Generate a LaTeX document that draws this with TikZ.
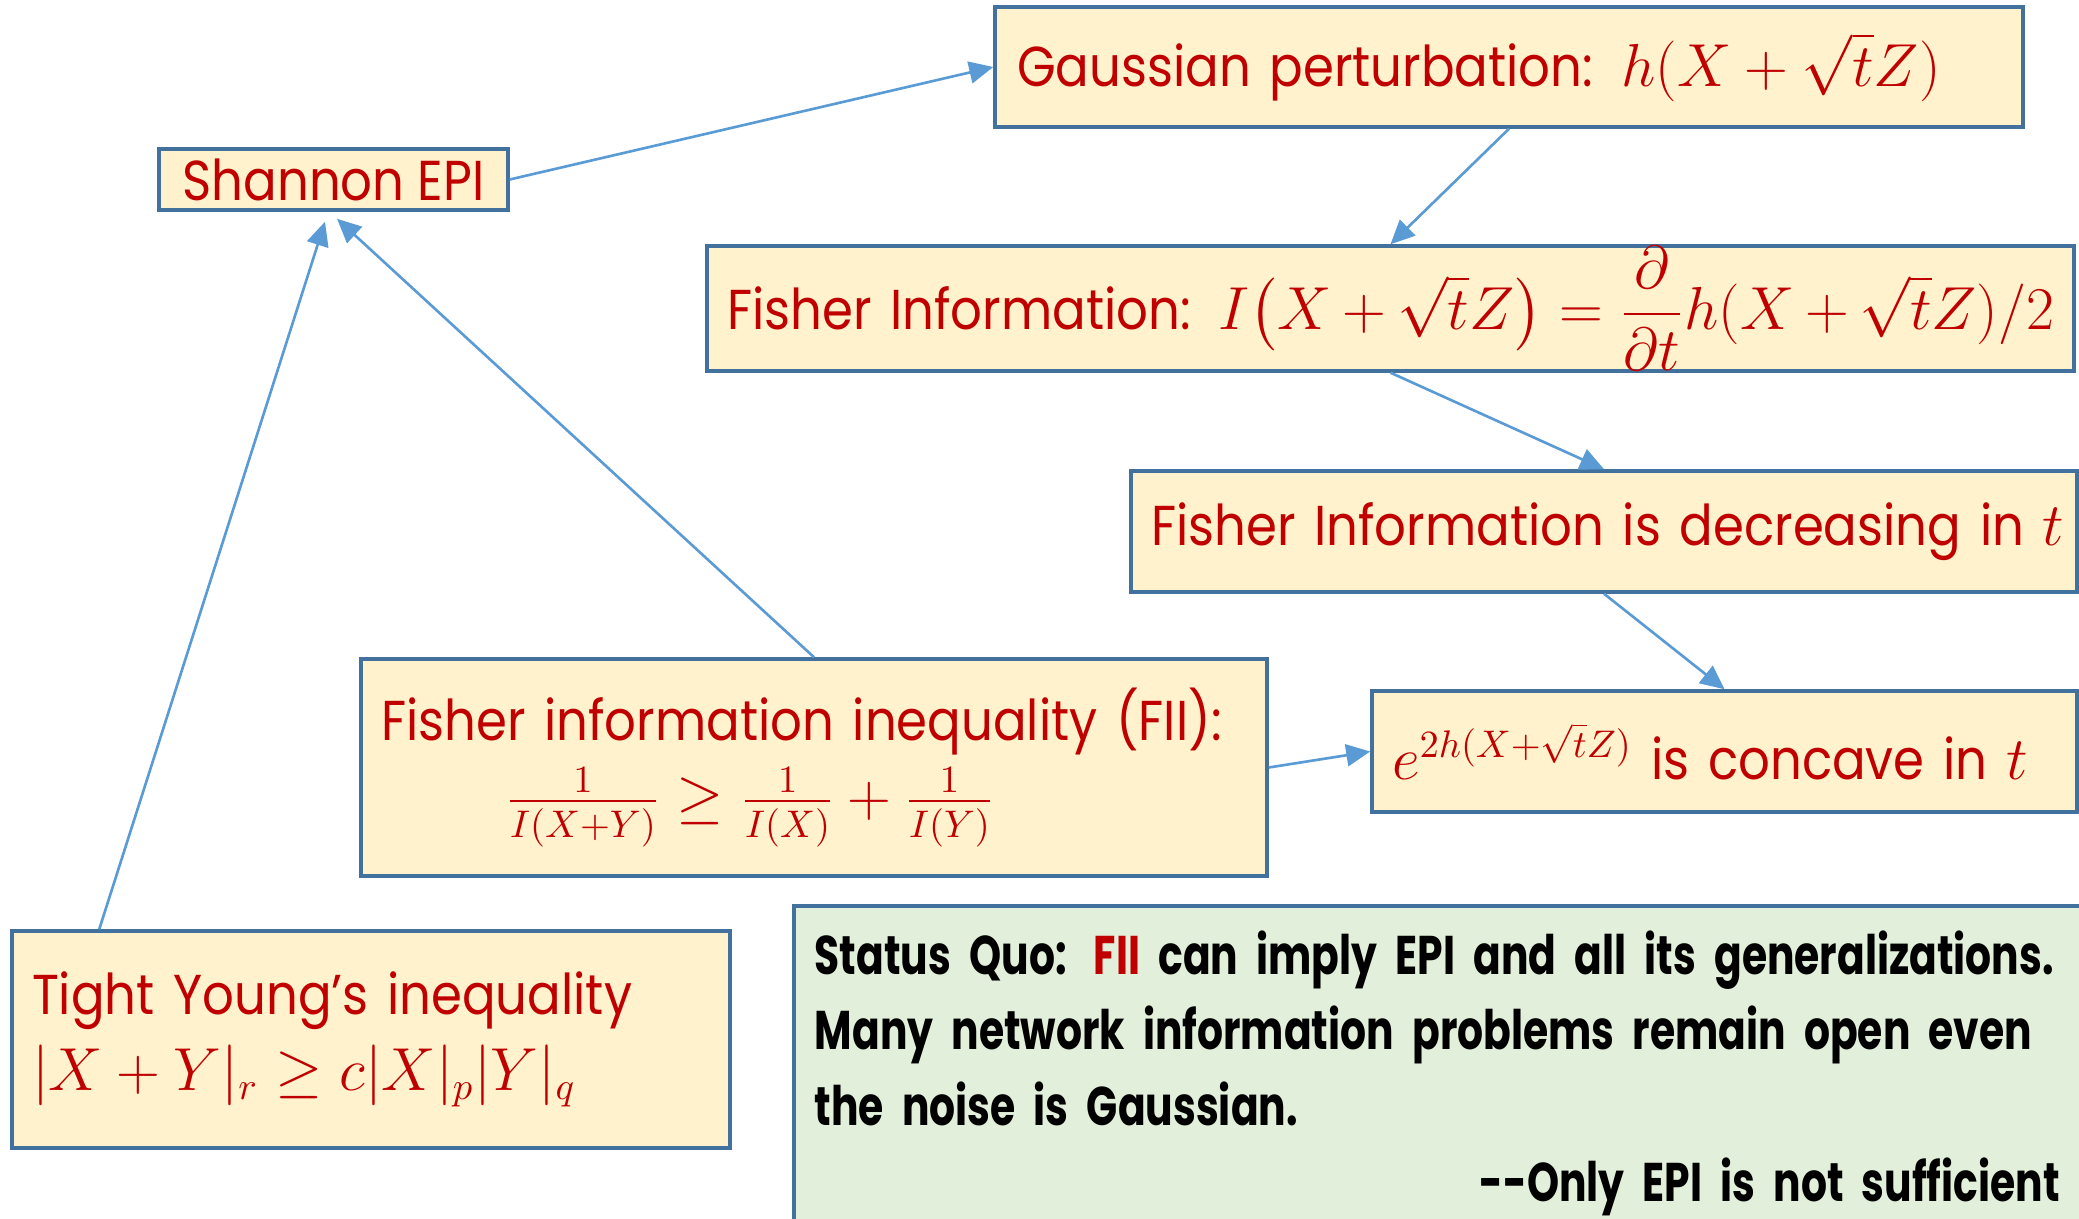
\documentclass[tikz,border=0pt]{standalone}
\usepackage{amsmath}
\usepackage{fontspec}
\setmainfont{Poppins}[FakeStretch=0.885]
\newfontfamily\quofont{Poppins}[FakeStretch=0.75]
\usetikzlibrary{arrows.meta,calc}
\definecolor{txtred}{HTML}{C00000}
\definecolor{bxfill}{HTML}{FFF2CC}
\definecolor{bxline}{HTML}{41719C}
\definecolor{arline}{HTML}{5B9BD5}
\definecolor{quofill}{HTML}{E2EFDA}
\tikzset{
  bx/.style={rectangle,draw=bxline,fill=bxfill,line width=1pt,inner xsep=0.2cm,inner ysep=0pt,
    align=left,text=txtred,font=\fontsize{16}{21.5}\selectfont},
  quo/.style={rectangle,draw=bxline,fill=quofill,line width=1pt,inner xsep=0.21cm,align=left,
    font=\quofont\bfseries\fontsize{15.5}{21.5}\selectfont},
  arr/.style={-{Triangle[length=2.4mm,width=2.2mm]},draw=arline,line width=.75pt},
}

\begin{document}
\begin{tikzpicture}
\clip (0,0) rectangle (20.79,-12.19);
% ---- chain from Shannon EPI to concavity
\node[bx,minimum width=3.49cm,minimum height=0.61cm,inner xsep=0pt] (shannon) at (3.335,-1.795) {Shannon EPI};
\node[bx,text width=9.84cm,minimum height=1.20cm,inner xsep=0.22cm] (gauss) at (15.09,-0.67)
  {Gaussian perturbation: $h(X+\sqrt{t}Z)$};
\node[bx,text width=13.27cm,minimum height=1.21cm] (fisher) at (13.905,-3.085)
  {Fisher Information: $I\bigl(X+\sqrt{t}Z\bigr)=\dfrac{\partial}{\partial t}h(X+\sqrt{t}Z)/2$};
\node[bx,text width=9.06cm,minimum height=1.21cm] (decr) at (16.04,-5.315)
  {\mbox{Fisher Information is decreasing in $t$}};
\node[bx,text width=6.65cm,minimum height=1.21cm] (conc) at (17.245,-7.515)
  {\mbox{$e^{2h(X+\sqrt{t}Z)}$ is concave in $t$}};
\node[bx,text width=8.66cm,minimum height=2.17cm] (fii) at (8.14,-7.675)
  {Fisher information inequality (FII):\\
   \hspace*{1.25cm}$\frac{1}{I(X+Y)}\ge\frac{1}{I(X)}+\frac{1}{I(Y)}$};
\node[bx,text width=6.78cm,minimum height=2.17cm] (young) at (3.71,-10.395)
  {Tight Young’s inequality\\ $|X+Y|_r\ge c|X|_p|Y|_q$};
% ---- status box, runs off the page
\node[quo,anchor=north west,text width=12.45cm,inner ysep=0.25cm] (status) at (7.92,-9.04)
  {Status Quo: \textcolor{txtred}{FII} can imply EPI and all its generalizations.\\
   Many network information problems remain open even\\
   the noise is Gaussian.\\
   \hfill-{}-Only EPI is not sufficient\\[1cm]};
\draw[arr] (shannon.east) -- (gauss.west);
\draw[arr] (gauss.south) -- (fisher.north);
\draw[arr] (fisher.south) -- (decr.north);
\draw[arr] (decr.south) -- (conc.north);
\draw[arr] (fii.east) -- (conc.west);
\draw[arr] (fii.north) -- ([xshift=1pt,yshift=-2pt]shannon.south);
\draw[arr] ([xshift=0.89cm]young.north west) -- ([xshift=-0.85mm,yshift=-1mm]shannon.south);
\end{tikzpicture}
\end{document}
